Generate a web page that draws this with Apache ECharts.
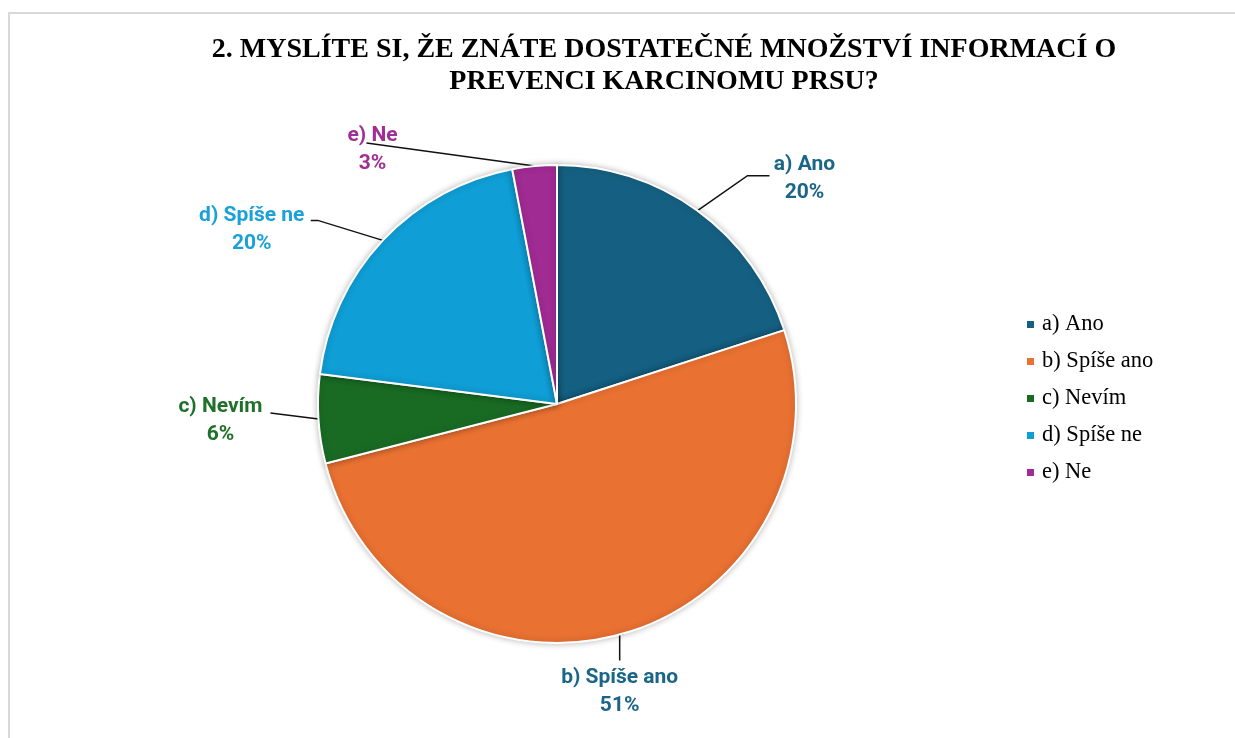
<!DOCTYPE html>
<html>
<head>
<meta charset="utf-8">
<script src="https://cdn.jsdelivr.net/npm/echarts@6/dist/echarts.min.js"></script>
<style>
  html, body { margin: 0; padding: 0; background: #fff; }
  #chart { width: 1235px; height: 738px; }
</style>
</head>
<body>
<div id="chart"></div>
<script>
// answers and their shares (%)
const categories = ['a) Ano', 'b) Spíše ano', 'c) Nevím', 'd) Spíše ne', 'e) Ne']
const values = [20, 51, 6, 20, 3]
const sliceColors = ['#156082', '#e97132', '#196b24', '#0f9ed5', '#a02b93']
const labelColors = ['#1b6588', '#1b6588', '#1f7129', '#1aa1d8', '#a12e94']

// label placement relative to the slice edge point (bend, end of leader line, text centre)
const labelOffsets = [
  { bend: [50, -35], end: [72, -35], text: [107, -32] },
  { bend: [-4, 1], end: [-4, 27], text: [-4, 58] },
  { bend: [-48, -6], end: [-48, -6], text: [-98, 2] },
  { bend: [-65, -20], end: [-72, -20], text: [-131, -11] },
  { bend: [-168, -23], end: [-168, -23], text: [-162, -16] }
]

const chart = echarts.init(document.getElementById('chart'))

const option = {
  backgroundColor: '#fff',
  animation: false,
  title: {
    text: '2. MYSLÍTE SI, ŽE ZNÁTE DOSTATEČNÉ MNOŽSTVÍ INFORMACÍ O\nPREVENCI KARCINOMU PRSU?',
    left: 659,
    top: 29,
    textAlign: 'center',
    textStyle: {
      fontFamily: '"Liberation Serif", "Times New Roman", serif',
      fontWeight: 'bold',
      fontSize: 28,
      lineHeight: 32,
      color: '#000'
    }
  },
  legend: {
    orient: 'vertical',
    left: 1020,
    top: 308,
    itemWidth: 9,
    itemHeight: 9,
    itemGap: 14,
    icon: 'rect',
    data: categories,
    textStyle: {
      fontFamily: '"Liberation Serif", "Times New Roman", serif',
      fontSize: 22.5,
      color: '#000',
      padding: [0, 0, 0, 2]
    }
  },
  graphic: [{
    type: 'rect',
    shape: { x: 9, y: 13, width: 1300, height: 800 },
    style: { fill: 'none', stroke: '#d9d9d9', lineWidth: 2 },
    silent: true
  }],
  series: [{
    type: 'pie',
    center: [557, 404],
    radius: 239,
    startAngle: 90,
    clockwise: true,
    avoidLabelOverlap: false,
    percentPrecision: 0,
    itemStyle: {
      borderColor: '#fff',
      borderWidth: 2,
      shadowBlur: 6,
      shadowColor: 'rgba(0,0,0,0.25)'
    },
    label: {
      show: true,
      position: 'outside',
      formatter: '{b}\n{d}%',
      fontFamily: 'Roboto, "Liberation Sans", sans-serif',
      fontWeight: 'bold',
      fontSize: 21,
      lineHeight: 28
    },
    labelLine: {
      show: true,
      length: 10,
      length2: 10,
      smooth: false,
      lineStyle: { color: '#111', width: 1.5 }
    },
    labelLayout: function (params) {
      const off = labelOffsets[params.dataIndex]
      const p0 = params.labelLinePoints[0]
      return {
        x: p0[0] + off.text[0],
        y: p0[1] + off.text[1],
        align: 'center',
        verticalAlign: 'middle',
        labelLinePoints: [
          [p0[0], p0[1]],
          [p0[0] + off.bend[0], p0[1] + off.bend[1]],
          [p0[0] + off.end[0], p0[1] + off.end[1]]
        ]
      }
    },
    data: categories.map((name, i) => ({
      name: name,
      value: values[i],
      itemStyle: { color: sliceColors[i] },
      label: { color: labelColors[i] }
    }))
  }]
}

chart.setOption(option)
</script>
</body>
</html>
